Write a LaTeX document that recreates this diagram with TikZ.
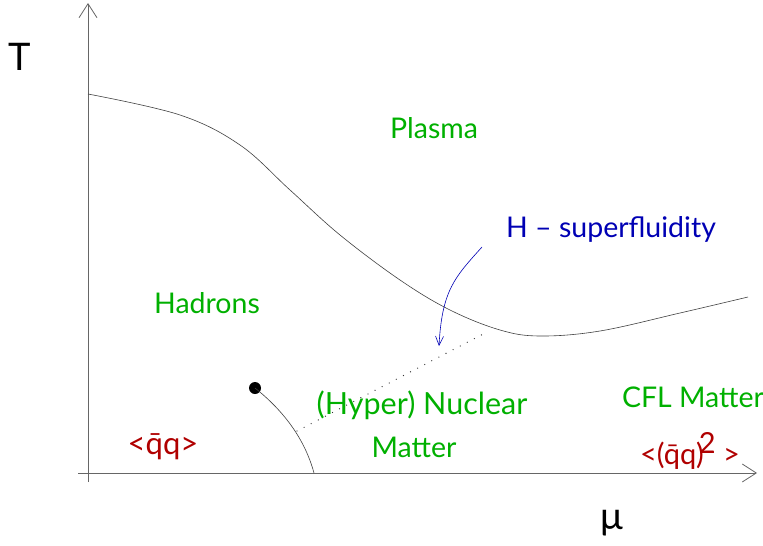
\documentclass[tikz,border=0pt]{standalone}
\usepackage{fontspec}
\setmainfont{Lato}
\usetikzlibrary{arrows.meta}
\definecolor{grn}{RGB}{0,176,0}
\definecolor{rd}{RGB}{176,0,0}
\definecolor{bl}{RGB}{0,0,180}
\begin{document}
\begin{tikzpicture}[x=1pt,y=-1pt,
  lbl/.style={font=\fontsize{28.5}{32}\selectfont, inner sep=0pt, anchor=center},
  phase/.style={lbl, text=grn},
  cond/.style={lbl, text=rd, font=\fontsize{31}{34}\selectfont},
  axis/.style={draw=black!60, line width=0.8pt},
  openhead/.style={-{Straight Barb[length=14pt,width=18pt,line width=0.8pt]}}]
\useasboundingbox (0,0) rectangle (763,546);
% axes
\coordinate (yb) at (88,482);
\coordinate (yt) at (88,3);
\coordinate (xl) at (78,473);
\coordinate (xr) at (757,473);
\draw[axis,openhead] (yb) -- (yt);
\draw[axis,openhead] (xl) -- (xr);
% phase boundary
\draw[black!75, line width=0.6pt] plot[smooth, tension=0.6] coordinates {(88,94) (180,115) (240,145) (290,190) (340,235) (400,280) (450,310) (500,330) (540,336) (600,331) (680,313) (748,297)};
% critical point and first-order line
\node[circle, fill=black, inner sep=0pt, minimum size=12pt] (cp) at (255,388) {};
\coordinate (cpend) at (314,473);
\draw[black!75, line width=0.6pt] (cp.center) .. controls (285,412) and (305,440) .. (cpend);
% dotted line
\coordinate (d1) at (297,431);
\coordinate (d2) at (487,332);
\draw[black!80, line width=1.3pt, line cap=round, dash pattern=on 0pt off 8pt] (d1) -- (d2);
% labels
\node[lbl] (T) at (20,57) {\fontsize{38}{40}\selectfont T};
\node[lbl] (mu) at (612,523) {\fontsize{38}{40}\selectfont μ};
\node[phase] (plasma) at (434,128) {Plasma};
\node[lbl, text=bl] (hs) at (611,229) {H – superfluidity};
\node[phase] (had) at (207,303) {Hadrons};
\node[phase, font=\fontsize{30.5}{34}\selectfont] (hyp) at (422,405) {(Hyper) Nuclear};
\node[phase] (mat) at (414,447) {Matter};
\node[phase] (cfl) at (693,397) {CFL Matter};
\node[cond] (qq) at (163,447) {<\=qq>};
\node[cond, font=\fontsize{29}{32}\selectfont] (qq2) at (690,451) {<(\=qq)\kern-5pt\raisebox{11pt}{2} >};
% blue arrow
\coordinate (ae) at (439,346);
\draw[bl, line width=0.6pt, -{Straight Barb[length=9pt,width=8pt]}] (482,247) .. controls (455,277) and (442,290) .. (ae);
\end{tikzpicture}
\end{document}
